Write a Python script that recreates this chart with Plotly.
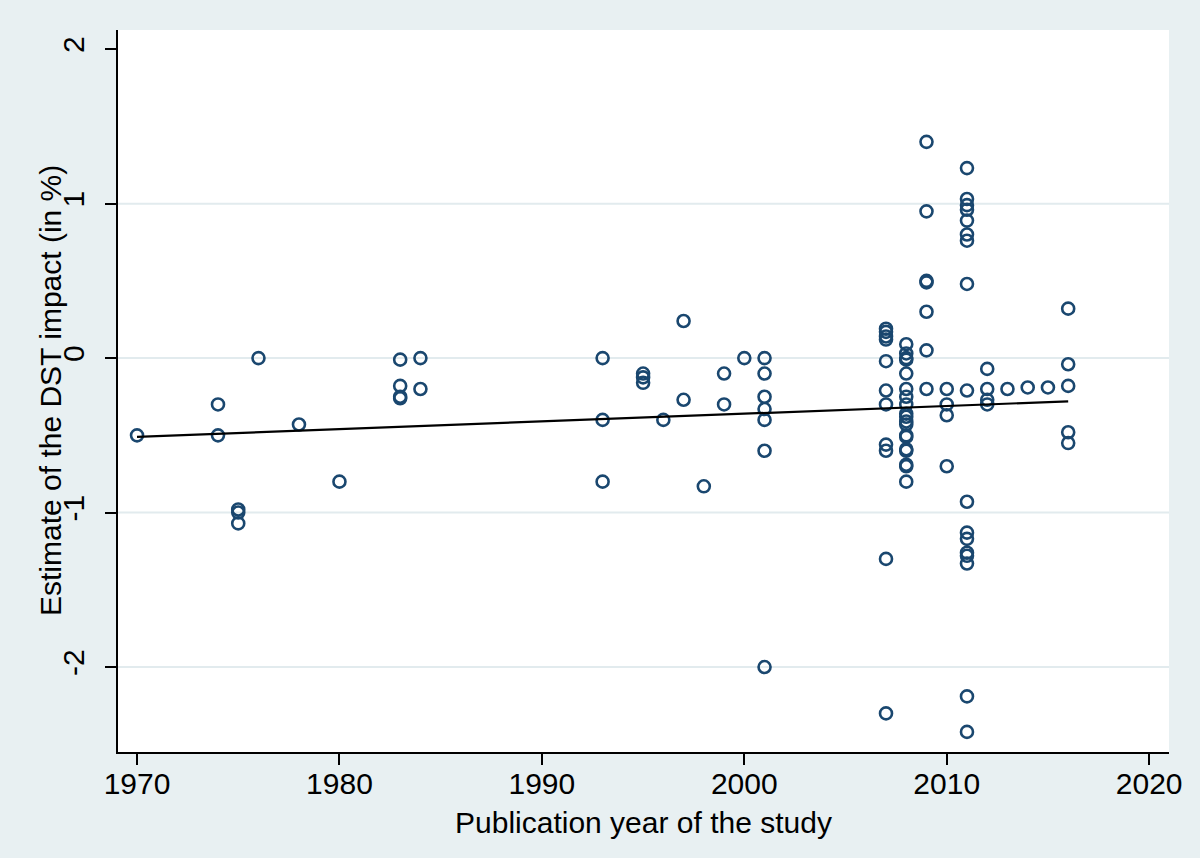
import numpy as np
import plotly.graph_objects as go

# publication year of each study and its DST impact estimate (in %)
years = [1970,
         1974, 1974,
         1975, 1975, 1975,
         1976, 1978, 1980,
         1983, 1983, 1983, 1983,
         1984, 1984,
         1993, 1993, 1993,
         1995, 1995, 1995,
         1996, 1997, 1997, 1998, 1999, 1999, 2000,
         2001, 2001, 2001, 2001, 2001, 2001, 2001,
         2007, 2007, 2007, 2007, 2007, 2007, 2007, 2007, 2007, 2007, 2007,
         2008, 2008, 2008, 2008, 2008, 2008, 2008, 2008, 2008, 2008,
         2008, 2008, 2008, 2008, 2008, 2008, 2008, 2008, 2008,
         2009, 2009, 2009, 2009, 2009, 2009, 2009,
         2010, 2010, 2010, 2010,
         2011, 2011, 2011, 2011, 2011, 2011, 2011, 2011, 2011,
         2011, 2011, 2011, 2011, 2011, 2011, 2011, 2011,
         2012, 2012, 2012, 2012,
         2013, 2014, 2015,
         2016, 2016, 2016, 2016, 2016]
estimates = [-0.50,
             -0.30, -0.50,
             -0.98, -1.00, -1.07,
             0.00, -0.43, -0.80,
             -0.01, -0.18, -0.25, -0.26,
             0.00, -0.20,
             0.00, -0.40, -0.80,
             -0.10, -0.125, -0.16,
             -0.40, 0.24, -0.27, -0.83, -0.10, -0.30, 0.00,
             0.00, -0.10, -0.25, -0.33, -0.40, -0.60, -2.00,
             0.19, 0.17, 0.14, 0.12, -0.02, -0.21, -0.30, -0.56, -0.60, -1.30, -2.30,
             0.09, 0.03, 0.00, -0.01, -0.10, -0.20, -0.25, -0.30, -0.36, -0.38,
             -0.41, -0.43, -0.50, -0.51, -0.60, -0.59, -0.70, -0.69, -0.80,
             1.40, 0.95, 0.50, 0.49, 0.30, 0.05, -0.20,
             -0.20, -0.30, -0.37, -0.70,
             1.23, 1.03, 0.99, 0.96, 0.89, 0.80, 0.76, 0.48, -0.21,
             -0.93, -1.13, -1.17, -1.26, -1.28, -1.33, -2.19, -2.42,
             -0.07, -0.20, -0.27, -0.30,
             -0.20, -0.19, -0.19,
             0.32, -0.04, -0.18, -0.48, -0.55]

# linear fit as drawn in the original (endpoints)
fit_years = [1970, 2016]
fit_values = [-0.51, -0.28]

x_ticks = [1970, 1980, 1990, 2000, 2010, 2020]
y_ticks = [-2, -1, 0, 1, 2]
y_tick_labels = ["-2", "-1", "0", "1", "2"]
grid_values = [-2, -1, 0, 1]

x_title = "Publication year of the study"
y_title = "Estimate of the DST impact (in %)"

bg = "#e8f0f2"
navy = "#1a476f"
font = "Liberation Sans, Arial, sans-serif"

fig = go.Figure()

for g in grid_values:
    fig.add_hline(y=g, line=dict(color="#e2ebee", width=2), layer="below")

fig.add_trace(go.Scatter(
    x=years, y=estimates, mode="markers",
    marker=dict(symbol="circle-open", size=12, color=navy,
                line=dict(width=2.6, color=navy)),
    showlegend=False))

fig.add_trace(go.Scatter(
    x=fit_years, y=fit_values, mode="lines",
    line=dict(color="black", width=2.2),
    showlegend=False))

fig.update_layout(
    width=1200, height=858,
    paper_bgcolor=bg, plot_bgcolor="white",
    margin=dict(l=118, r=31, t=30, b=106),
    font=dict(family=font, size=30, color="black"),
    showlegend=False,
)

fig.update_xaxes(
    range=[1969.06, 2020.98], tickvals=x_ticks,
    showgrid=False, zeroline=False,
    showline=True, linecolor="black", linewidth=2,
    ticks="outside", ticklen=11, tickwidth=1.5, tickcolor="black",
    ticklabelstandoff=-7,
)
fig.update_yaxes(
    range=[-2.55, 2.124], tickvals=y_ticks, ticktext=y_tick_labels,
    tickangle=-90,
    showgrid=False, zeroline=False,
    showline=True, linecolor="black", linewidth=2,
    ticks="outside", ticklen=11, tickwidth=1.5, tickcolor="black",
    ticklabelstandoff=9,
)

# axis titles placed as annotations so their position is exact
fig.add_annotation(text=x_title, xref="paper", yref="paper", x=0.5, y=0,
                   xanchor="center", yanchor="middle", yshift=-70,
                   showarrow=False, font=dict(size=30))
fig.add_annotation(text=y_title, xref="paper", yref="paper", x=0, y=0.5,
                   xanchor="center", yanchor="middle", xshift=-68,
                   textangle=-90, showarrow=False, font=dict(size=30))

# drop the page margin so the figure fills the window like the original
fig.write_html("out.html", config={"displayModeBar": False}, post_script=(
    "document.body.style.margin='0';"
    "document.body.style.background='" + bg + "';"))
